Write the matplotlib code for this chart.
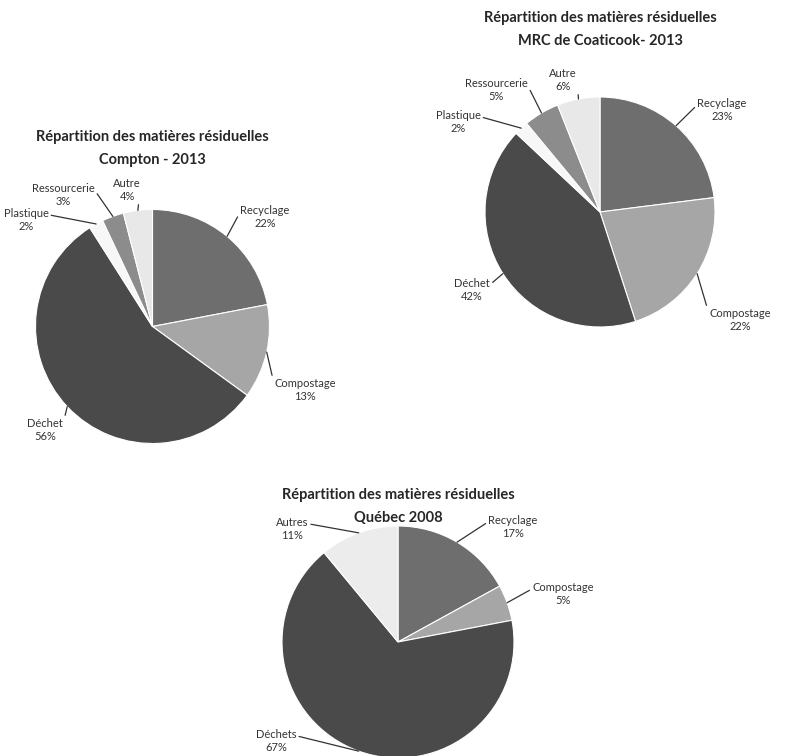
import numpy as np
import matplotlib.pyplot as plt

# data
compton_labels = ['Recyclage', 'Compostage', 'Déchet', 'Plastique', 'Ressourcerie', 'Autre']
compton_values = [22, 13, 56, 2, 3, 4]

coaticook_labels = ['Recyclage', 'Compostage', 'Déchet', 'Plastique', 'Ressourcerie', 'Autre']
coaticook_values = [23, 22, 42, 2, 5, 6]

quebec_labels = ['Recyclage', 'Compostage', 'Déchets', 'Autres']
quebec_values = [17, 5, 67, 11]

# styles
COLORS = {'Recyclage': '#6e6e6e', 'Compostage': '#a6a6a6', 'Déchet': '#4a4a4a', 'Déchets': '#4a4a4a',
          'Plastique': '#f7f7f7', 'Ressourcerie': '#8c8c8c', 'Autre': '#e8e8e8', 'Autres': '#ececec'}

W, H = 787, 756
FONT = 'Lato'
L = 1.9

fig = plt.figure(figsize=(W / 100, H / 100), dpi=100)
fig.patch.set_facecolor('white')


def draw_pie(values, labels, title, center, radius, label_px, title_y):
    cx, cy = center
    size = 2 * L * radius
    ax = fig.add_axes([(cx - L * radius) / W, (H - cy - L * radius) / H, size / W, size / H])
    colors = [COLORS[l] for l in labels]
    wedges, _ = ax.pie(values, colors=colors, startangle=90, counterclock=False,
                       wedgeprops=dict(edgecolor='white', linewidth=0.8))
    ax.set_xlim(-L, L)
    ax.set_ylim(-L, L)
    ax.axis('off')
    for w, lab, v, (px, py) in zip(wedges, labels, values, label_px):
        mid = np.deg2rad((w.theta1 + w.theta2) / 2)
        ex, ey = np.cos(mid), np.sin(mid)
        tx, ty = (px - cx) / radius, -(py - cy) / radius
        rel = (0, 0.72) if tx > ex else (1, 0.72)
        ax.annotate(f'{lab}\n{v}%', xy=(ex, ey), xytext=(tx, ty), ha='center', va='center',
                    fontsize=8, family=FONT, color='#333333', linespacing=1.2,
                    arrowprops=dict(arrowstyle='-', color='#333333', lw=0.9,
                                    shrinkA=0, shrinkB=0, relpos=rel))
    # two title lines as separate texts
    for i, line in enumerate(title):
        fig.text(cx / W, 1 - (title_y + 23 * i) / H, line, ha='center', va='center', fontsize=10.5,
                 fontweight='bold', family=FONT, color='#262626')
    return ax


draw_pie(compton_values, compton_labels, ['Répartition des matières résiduelles', 'Compton - 2013'],
         (152.5, 326.5), 117,
         [(265, 217), (305, 390), (45, 430), (26, 220), (63, 195), (127, 190)], 137)

draw_pie(coaticook_values, coaticook_labels, ['Répartition des matières résiduelles', 'MRC de Coaticook- 2013'],
         (600, 212), 115,
         [(722, 110), (740, 320), (472, 290), (458, 122), (496, 90), (563, 80)], 18)

draw_pie(quebec_values, quebec_labels, ['Répartition des matières résiduelles', 'Québec 2008'],
         (398, 642), 116,
         [(513, 527), (563, 594), (276, 741), (292, 529)], 495)

plt.savefig('out.png', dpi=100, facecolor='white')
